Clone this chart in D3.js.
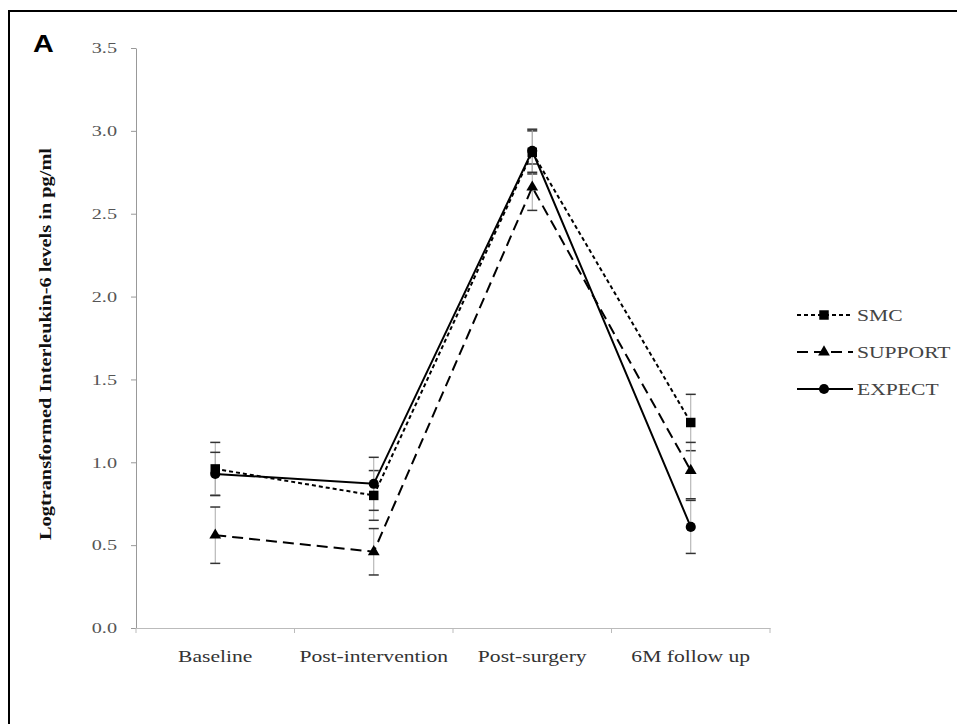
<!DOCTYPE html>
<html>
<head>
<meta charset="utf-8">
<script src="https://cdn.jsdelivr.net/npm/d3@7"></script>
<style>
  body { margin: 0; background: #fff; }
  svg text { font-family: "Liberation Serif", "DejaVu Serif", serif; }
</style>
</head>
<body>
<svg id="chart" width="957" height="724"></svg>
<script>
// data
const categories = ["Baseline", "Post-intervention", "Post-surgery", "6M follow up"];
const smcValues = [0.96, 0.80, 2.87, 1.24];
const smcErrors = [0.16, 0.15, 0.13, 0.17];
const supportValues = [0.56, 0.46, 2.66, 0.95];
const supportErrors = [0.17, 0.14, 0.14, 0.17];
const expectValues = [0.93, 0.87, 2.88, 0.61];
const expectErrors = [0.13, 0.16, 0.13, 0.16];
const yTicks = [0, 0.5, 1.0, 1.5, 2.0, 2.5, 3.0, 3.5];

const series = [
  {name: "SMC", values: smcValues, errors: smcErrors, dash: "4,3", symbol: d3.symbolSquare, size: 90},
  {name: "SUPPORT", values: supportValues, errors: supportErrors, dash: "11,6", symbol: d3.symbolTriangle, size: 60},
  {name: "EXPECT", values: expectValues, errors: expectErrors, dash: null, symbol: d3.symbolCircle, size: 80}
];

const svg = d3.select("#chart");
const margin = {top: 48, left: 136, right: 770, bottom: 628};
const stretch = 1.35; // the figure's text is drawn wide

// panel border
svg.append("rect")
   .attr("x", 9).attr("y", 11)
   .attr("width", 960).attr("height", 720)
   .attr("fill", "none")
   .attr("stroke", "#000")
   .attr("stroke-width", 2);

svg.append("text")
   .attr("transform", "translate(33,52) scale(1.25,1)")
   .style("font-family", "Liberation Sans, Arial, sans-serif")
   .style("font-weight", "bold")
   .style("font-size", "23px")
   .text("A");

let x = d3.scaleBand().domain(categories).range([margin.left, margin.right]);
let y = d3.scaleLinear().domain([0, 3.5]).range([margin.bottom, margin.top]);

// y axis
let yAxis = svg.append("g")
   .attr("transform", "translate(" + margin.left + ",0)")
   .call(d3.axisLeft(y).tickValues(yTicks).tickFormat(d3.format(".1f")).tickSize(5).tickSizeOuter(0).tickPadding(0));
yAxis.select(".domain").attr("stroke", "#999");
yAxis.selectAll(".tick line").attr("stroke", "#999");
yAxis.selectAll("text")
     .attr("x", 0)
     .attr("transform", "translate(-19,0) scale(" + stretch + ",1)")
     .attr("fill", "#555")
     .style("font-size", "15px");

// x axis, ticks between categories
let xAxis = svg.append("g")
   .attr("transform", "translate(0," + margin.bottom + ")")
   .call(d3.axisBottom(x).tickSize(0).tickPadding(23));
xAxis.select(".domain").attr("stroke", "#bbb");
xAxis.selectAll("text")
     .attr("transform", "scale(" + stretch + ",1)")
     .attr("fill", "#333")
     .style("font-size", "16px");
let edges = categories.map(c => x(c)).concat([x.range()[1]]);
svg.append("g").selectAll("line")
   .data(edges)
   .enter()
   .append("line")
   .attr("x1", d => d).attr("x2", d => d)
   .attr("y1", margin.bottom).attr("y2", margin.bottom + 5)
   .attr("stroke", "#bbb");

// y title
svg.append("text")
   .attr("transform", "translate(51," + ((margin.top + margin.bottom) / 2 + 6) + ") rotate(-90)")
   .attr("text-anchor", "middle")
   .attr("textLength", 392)
   .attr("lengthAdjust", "spacingAndGlyphs")
   .style("font-weight", "bold")
   .style("font-size", "16px")
   .attr("fill", "#111")
   .text("Logtransformed Interleukin-6 levels in pg/ml");

let cx = c => x(c) + x.bandwidth() / 2;

// error bars
series.forEach(s => {
  let g = svg.append("g");
  g.selectAll("line.stem")
   .data(categories)
   .enter()
   .append("line")
   .attr("class", "stem")
   .attr("x1", d => cx(d)).attr("x2", d => cx(d))
   .attr("y1", (d, i) => y(s.values[i] + s.errors[i]))
   .attr("y2", (d, i) => y(s.values[i] - s.errors[i]))
   .attr("stroke", "#aaa").attr("stroke-width", 1);
  [1, -1].forEach(sign => {
    g.selectAll("line.cap" + sign)
     .data(categories)
     .enter()
     .append("line")
     .attr("x1", d => cx(d) - 5).attr("x2", d => cx(d) + 5)
     .attr("y1", (d, i) => y(s.values[i] + sign * s.errors[i]))
     .attr("y2", (d, i) => y(s.values[i] + sign * s.errors[i]))
     .attr("stroke", "#333").attr("stroke-width", 1.5);
  });
});

// lines and markers
let line = d3.line().x(d => cx(d[0])).y(d => y(d[1]));
series.forEach(s => {
  let pts = categories.map((c, i) => [c, s.values[i]]);
  svg.append("path")
     .attr("d", line(pts))
     .attr("fill", "none")
     .attr("stroke", "#000")
     .attr("stroke-width", 2)
     .attr("stroke-dasharray", s.dash);
  svg.append("g").selectAll("path")
     .data(pts)
     .enter()
     .append("path")
     .attr("transform", d => "translate(" + cx(d[0]) + "," + y(d[1]) + ")")
     .attr("d", d3.symbol().type(s.symbol).size(s.size))
     .attr("fill", "#000");
});

// legend
let legend = svg.append("g").attr("transform", "translate(797,315)");
series.forEach((s, i) => {
  let row = legend.append("g").attr("transform", "translate(0," + (i * 37) + ")");
  row.append("line")
     .attr("x1", 0).attr("x2", 56)
     .attr("stroke", "#000").attr("stroke-width", 2)
     .attr("stroke-dasharray", s.dash);
  row.append("path")
     .attr("transform", "translate(27,0)")
     .attr("d", d3.symbol().type(s.symbol).size(s.size))
     .attr("fill", "#000");
  row.append("text")
     .attr("transform", "translate(60,6) scale(" + stretch + ",1)")
     .attr("fill", "#444")
     .style("font-size", "16px")
     .text(s.name);
});
</script>
</body>
</html>
